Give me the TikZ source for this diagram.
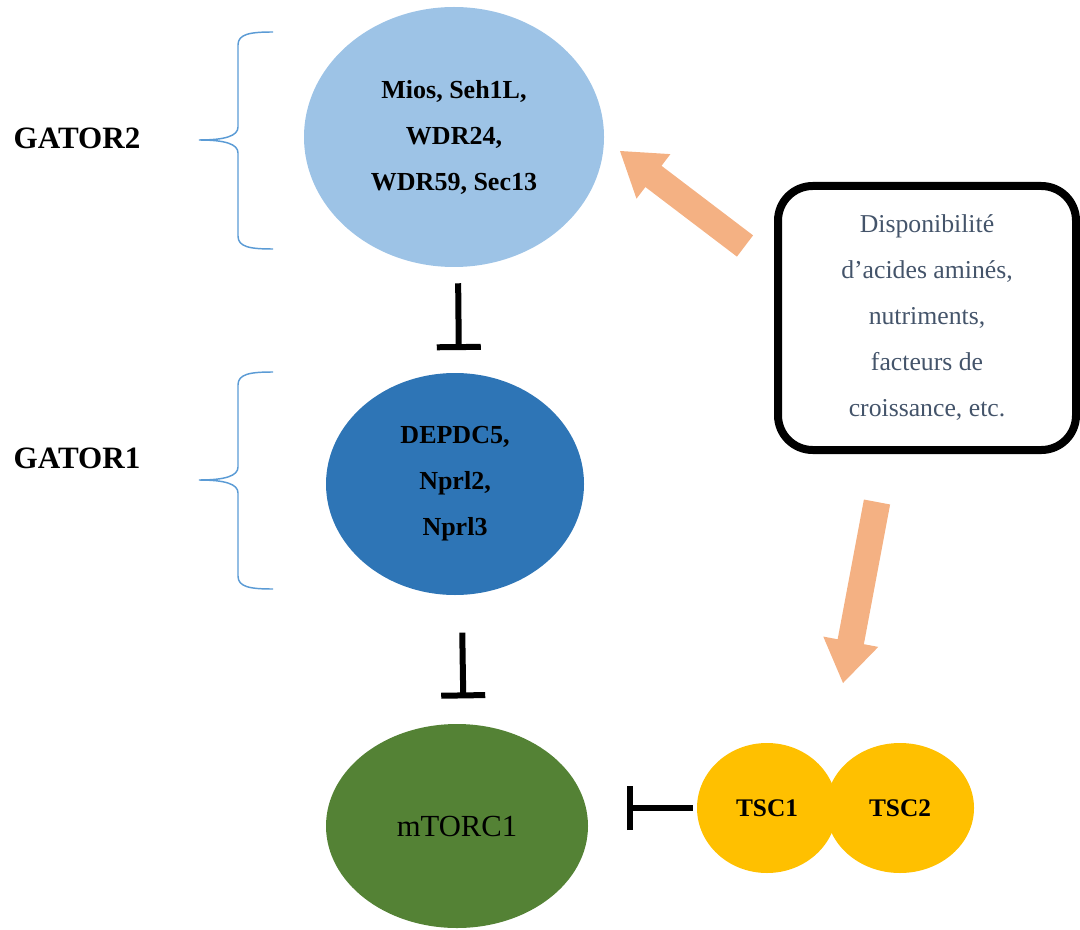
\documentclass[tikz,border=0pt]{standalone}
\usepackage{fontspec}
\setmainfont{Liberation Serif}
\usetikzlibrary{shapes.geometric,arrows.meta,calc}

\definecolor{gatortwo}{HTML}{9DC3E6}
\definecolor{gatorone}{HTML}{2E75B6}
\definecolor{mtorgreen}{HTML}{548235}
\definecolor{tscyellow}{HTML}{FFC000}
\definecolor{flowsalmon}{HTML}{F4B183}
\definecolor{braceblue}{HTML}{5B9BD5}
\definecolor{boxtext}{HTML}{44546A}

% fat arrow from #1 (tail) to #2 (tip)
\newcommand{\fatarrow}[2]{%
  \coordinate (#1-base) at ($(#2)!31.5pt!(#1)$);
  \fill[flowsalmon] ($(#1)!10pt!90:(#2)$) -- ($(#1-base)!10pt!90:(#2)$)
    -- ($(#1-base)!21pt!90:(#2)$) -- (#2) -- ($(#1-base)!21pt!-90:(#2)$)
    -- ($(#1-base)!10pt!-90:(#2)$) -- ($(#1)!10pt!-90:(#2)$) -- cycle;}

\begin{document}
\begin{tikzpicture}[x=0.75pt,y=-0.75pt,
  complex/.style={ellipse,inner sep=0pt,align=center,
    font=\fontsize{19.5}{34.5}\selectfont\bfseries},
  tscircle/.style={ellipse,fill=tscyellow,inner sep=0pt,
    minimum height=97.5pt,font=\fontsize{19}{22}\selectfont\bfseries},
  grouplabel/.style={font=\fontsize{23.3}{26}\selectfont\bfseries},
  inhib/.style={line width=4.5pt,-{Bar[width=33pt]}},
  gatorbrace/.pic={
    \draw[braceblue,line width=1.1pt] (74,-108) .. controls (51,-108) and (39,-106) .. (39,-95)
      -- (39,-13) .. controls (39,-4) and (26,0) .. (0,0)
      .. controls (26,0) and (39,4) .. (39,13)
      -- (39,96) .. controls (39,107) and (51,109) .. (74,109);
  }]

  \useasboundingbox (0,0) rectangle (1080,930);

  \node[complex,fill=gatortwo,minimum width=225pt,minimum height=195pt] (gator2) at (454,137)
    {Mios, Seh1L,\\ WDR24,\\ WDR59, Sec13};
  \node[complex,fill=gatorone,minimum width=193.5pt,minimum height=166.5pt] (gator1) at (455,484)
    {DEPDC5,\\ Nprl2,\\ Nprl3};
  \node[ellipse,fill=mtorgreen,inner sep=0pt,minimum width=196.5pt,minimum height=153pt,
    font=\fontsize{23}{26}\selectfont] (mtorc1) at (457,826) {mTORC1};

  \node[tscircle,minimum width=105pt] (tsc1) at (767,808) {TSC1};
  \node[tscircle,minimum width=111pt] (tsc2) at (900,808) {TSC2};

  \node[grouplabel] (g2label) at (77,138) {GATOR2};
  \node[grouplabel] (g1label) at (77,458) {GATOR1};
  \pic at (199,140) {gatorbrace};
  \pic at (199,480) {gatorbrace};

  \node[draw,line width=6pt,rounded corners=26pt,minimum width=223.5pt,minimum height=198pt,
    align=center,text=boxtext,font=\fontsize{19.3}{34.5}\selectfont] (signals) at (927,318)
    {Disponibilité\\ d’acides aminés,\\ nutriments,\\ facteurs de\\ croissance, etc.};

  \draw[inhib,shorten <=12pt,shorten >=17pt] ([xshift=3pt]gator2.south) -- ([xshift=3pt]gator1.north);
  \draw[inhib,shorten <=28pt,shorten >=19pt] ([xshift=5pt]gator1.south) -- ([xshift=5pt]mtorc1.north);
  \draw[inhib,shorten <=3pt,shorten >=29pt] (tsc1.west) -- (tsc1.west -| mtorc1.east);

  \coordinate (upflow) at (745,246);
  \coordinate (upflow-tip) at (620,151);
  \coordinate (downflow) at (877,502);
  \coordinate (downflow-tip) at (843,683);
  \fatarrow{upflow}{upflow-tip}
  \fatarrow{downflow}{downflow-tip}

\end{tikzpicture}
\end{document}
